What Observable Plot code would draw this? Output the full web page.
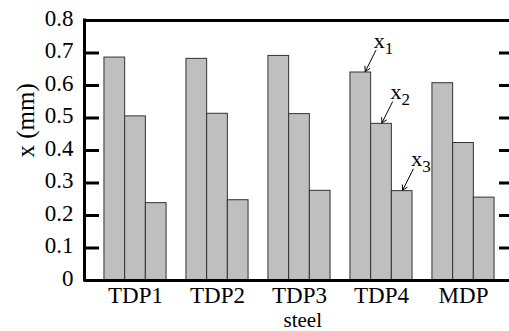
<!DOCTYPE html>
<html>
<head>
<meta charset="utf-8">
<script src="https://cdn.jsdelivr.net/npm/d3@7"></script>
<script src="https://cdn.jsdelivr.net/npm/@observablehq/plot@0.6"></script>
<style>
  html, body { margin: 0; padding: 0; background: #fff; }
  #chart svg { display: block; }
</style>
</head>
<body>
<div id="chart"></div>
<script>
// ---- data ----
const groups = ["TDP1", "TDP2", "TDP3", "TDP4", "MDP"];
const seriesNames = ["x1", "x2", "x3"];
const x1Values = [0.686, 0.682, 0.691, 0.640, 0.607];
const x2Values = [0.505, 0.513, 0.512, 0.482, 0.423];
const x3Values = [0.238, 0.247, 0.276, 0.275, 0.255];
const yTicks = [0, 0.1, 0.2, 0.3, 0.4, 0.5, 0.6, 0.7, 0.8];
const yTickLabels = ["0", "0.1", "0.2", "0.3", "0.4", "0.5", "0.6", "0.7", "0.8"];
const xAxisLabel = "steel";
const yAxisLabel = "x (mm)";
const annotations = [
  {label: "x", sub: "1", group: "TDP4", series: 0},
  {label: "x", sub: "2", group: "TDP4", series: 1},
  {label: "x", sub: "3", group: "TDP4", series: 2}
];

(function () {
// ---- table built from the arrays ----
const valueLists = [x1Values, x2Values, x3Values];
const rows = [];
groups.forEach((g, gi) => {
  seriesNames.forEach((s, si) => {
    rows.push({group: g, gi, si, series: s, value: valueLists[si][gi]});
  });
});

const W = 509, H = 331;
const L = 84, R = 514, T = 20, B = 280;
const xDomain = [-0.622, 4.622];
const pxX = (xDomain[1] - xDomain[0]) / (R - L); // data units per px
const pxY = 0.8 / (B - T);
const bw = 0.2525; // bar width in group units
const font = "'Liberation Serif', 'Times New Roman', serif";

const innerTicks = yTicks.filter(t => t > 0 && t < 0.8);
const annRows = annotations.map(a => {
  const gi = groups.indexOf(a.group);
  const v = valueLists[a.series][gi];
  const tx = gi + (a.series - 1) * bw + (a.series === 0 ? 4 * pxX : 0);
  return {...a, tipX: tx, tipY: v, tailX: tx + 11 * pxX, tailY: v + 22 * pxY};
});

const chart = Plot.plot({
  width: W, height: H,
  marginLeft: L, marginRight: 0, marginTop: T, marginBottom: H - B,
  x: {type: "linear", domain: xDomain, range: [L, R], axis: null},
  y: {domain: [0, 0.8], range: [B, T], axis: null},
  style: {fontFamily: font, background: "#fff", color: "#000"},
  marks: [
    Plot.rectY(rows, {
      x1: d => d.gi + (d.si - 1.5) * bw,
      x2: d => d.gi + (d.si - 0.5) * bw,
      y1: 0, y2: "value",
      fill: "#bfbfbf", stroke: "#333", strokeWidth: 1
    }),
    // frame
    Plot.ruleY([0, 0.8], {stroke: "#000", strokeWidth: 3}),
    Plot.ruleX([xDomain[0]], {y1: 0, y2: 0.8, stroke: "#000", strokeWidth: 3, strokeLinecap: "square"}),
    Plot.ruleX([xDomain[1]], {y1: 0, y2: 0.8, stroke: "#000", strokeWidth: 3}),
    // inward ticks
    Plot.ruleY(innerTicks, {x1: xDomain[0], x2: xDomain[0] + 15 * pxX, stroke: "#000", strokeWidth: 3}),
    Plot.ruleY(innerTicks, {x1: xDomain[1] - 15 * pxX, x2: xDomain[1], stroke: "#000", strokeWidth: 3}),
    // y tick labels
    Plot.text(yTicks, {
      x: xDomain[0], y: d => d, text: (d, i) => yTickLabels[i],
      textAnchor: "end", lineAnchor: "middle", dx: -11, dy: -2,
      fontSize: 23, fill: "#000", fontFamily: font
    }),
    // x category labels
    Plot.text(groups, {
      x: (d, i) => i, y: 0, text: d => d,
      textAnchor: "middle", lineAnchor: "top", dy: 6,
      fontSize: 23, fill: "#000", fontFamily: font
    }),
    // axis titles
    Plot.text([xAxisLabel], {
      x: 2.04, y: 0, text: d => d, lineAnchor: "middle", dy: 40,
      fontSize: 21, fill: "#000", fontFamily: font
    }),
    Plot.text([yAxisLabel], {
      frameAnchor: "left", text: d => d, rotate: -90, lineAnchor: "middle",
      dx: -59, dy: 7, fontSize: 25, fill: "#000", fontFamily: font
    }),
    // annotations
    Plot.arrow(annRows, {
      x1: "tailX", y1: "tailY", x2: "tipX", y2: "tipY",
      stroke: "#000", strokeWidth: 1, headLength: 8, insetEnd: 1
    }),
    Plot.text(annRows, {
      x: "tailX", y: "tailY", text: "label", textAnchor: "start", lineAnchor: "bottom",
      dx: -2, dy: -3, fontSize: 22, fill: "#000", fontFamily: font
    }),
    Plot.text(annRows, {
      x: "tailX", y: "tailY", text: "sub", textAnchor: "start", lineAnchor: "bottom",
      dx: 9, dy: 3, fontSize: 17, fill: "#000", fontFamily: font
    })
  ]
});
document.getElementById("chart").appendChild(chart);
})();
</script>
</body>
</html>
